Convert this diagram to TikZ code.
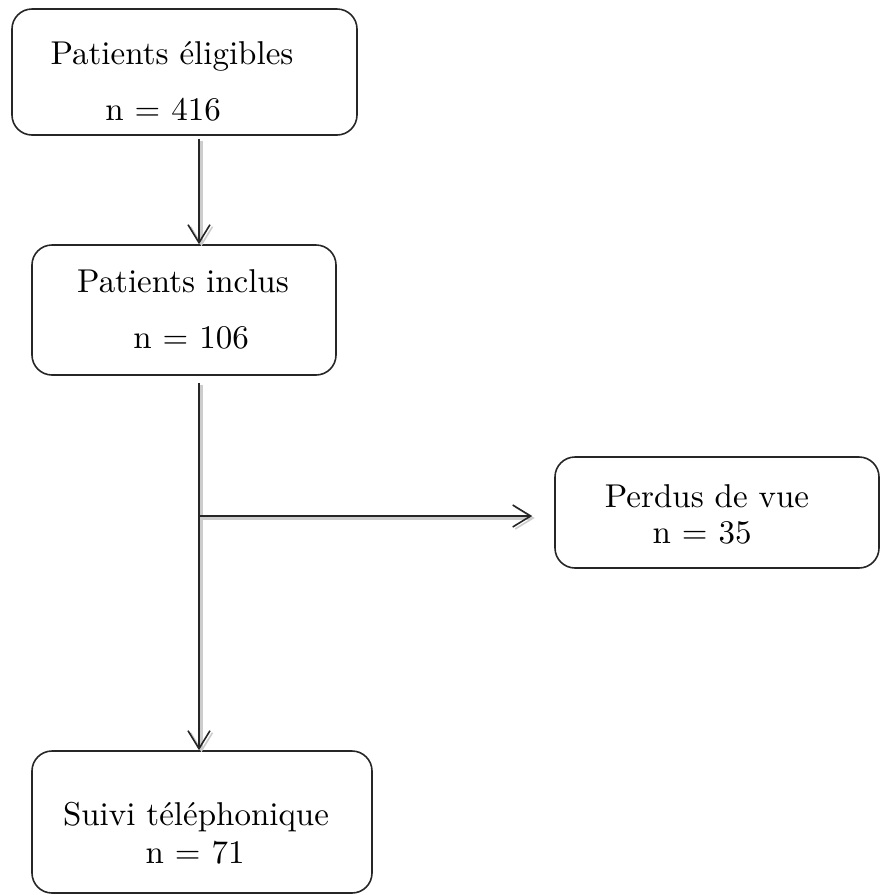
\documentclass[tikz,border=0pt]{standalone}
\usepackage{fontspec}
\setmainfont{lmroman10-regular.otf}
\usetikzlibrary{arrows.meta}
\begin{document}
\begin{tikzpicture}[x=1pt,y=-1pt,
  box/.style={draw=black!85,line width=1.6pt,rounded corners=20pt,inner sep=0pt},
  txt/.style={anchor=base,inner sep=0pt,font=\fontsize{33}{40}\selectfont},
  conn/.style={draw=black!85,line width=1.6pt,
    preaction={draw=black!20,line width=3.5pt,transform canvas={shift={(2.5pt,-2pt)}}}},
  arr/.style={conn,-{Straight Barb[length=18pt,width=22pt,line width=1.6pt]}}]
\useasboundingbox (0,0) rectangle (882,895);
% boxes
\node[box,minimum width=345pt,minimum height=126pt] (b1) at (184.5,72) {};
\node[box,minimum width=304pt,minimum height=130pt] (b2) at (184,310) {};
\node[box,minimum width=324pt,minimum height=111pt] (b4) at (717,512.5) {};
\node[box,minimum width=340pt,minimum height=142pt] (b3) at (202,822) {};
% texts
\node[txt] (t1a) at (172,64) {Patients éligibles};
\node[txt] (t1b) at (163,120) {n = 416};
\node[txt] (t2a) at (183,292) {Patients inclus};
\node[txt] (t2b) at (191,348) {n = 106};
\node[txt] (t4a) at (707,507) {Perdus de vue};
\node[txt] (t4b) at (702,543) {n = 35};
\node[txt] (t3a) at (196,825) {Suivi téléphonique};
\node[txt] (t3b) at (195,863) {n = 71};
% connectors
\coordinate (j) at (199,516);
\draw[arr,shorten <=3pt] (b1.south -| j) -- (b2.north -| j);
\draw[arr,shorten <=7pt] (b2.south -| j) -- (b3.north -| j);
\draw[arr,shorten >=22pt] (j) -- (b4.west |- j);
\end{tikzpicture}
\end{document}
